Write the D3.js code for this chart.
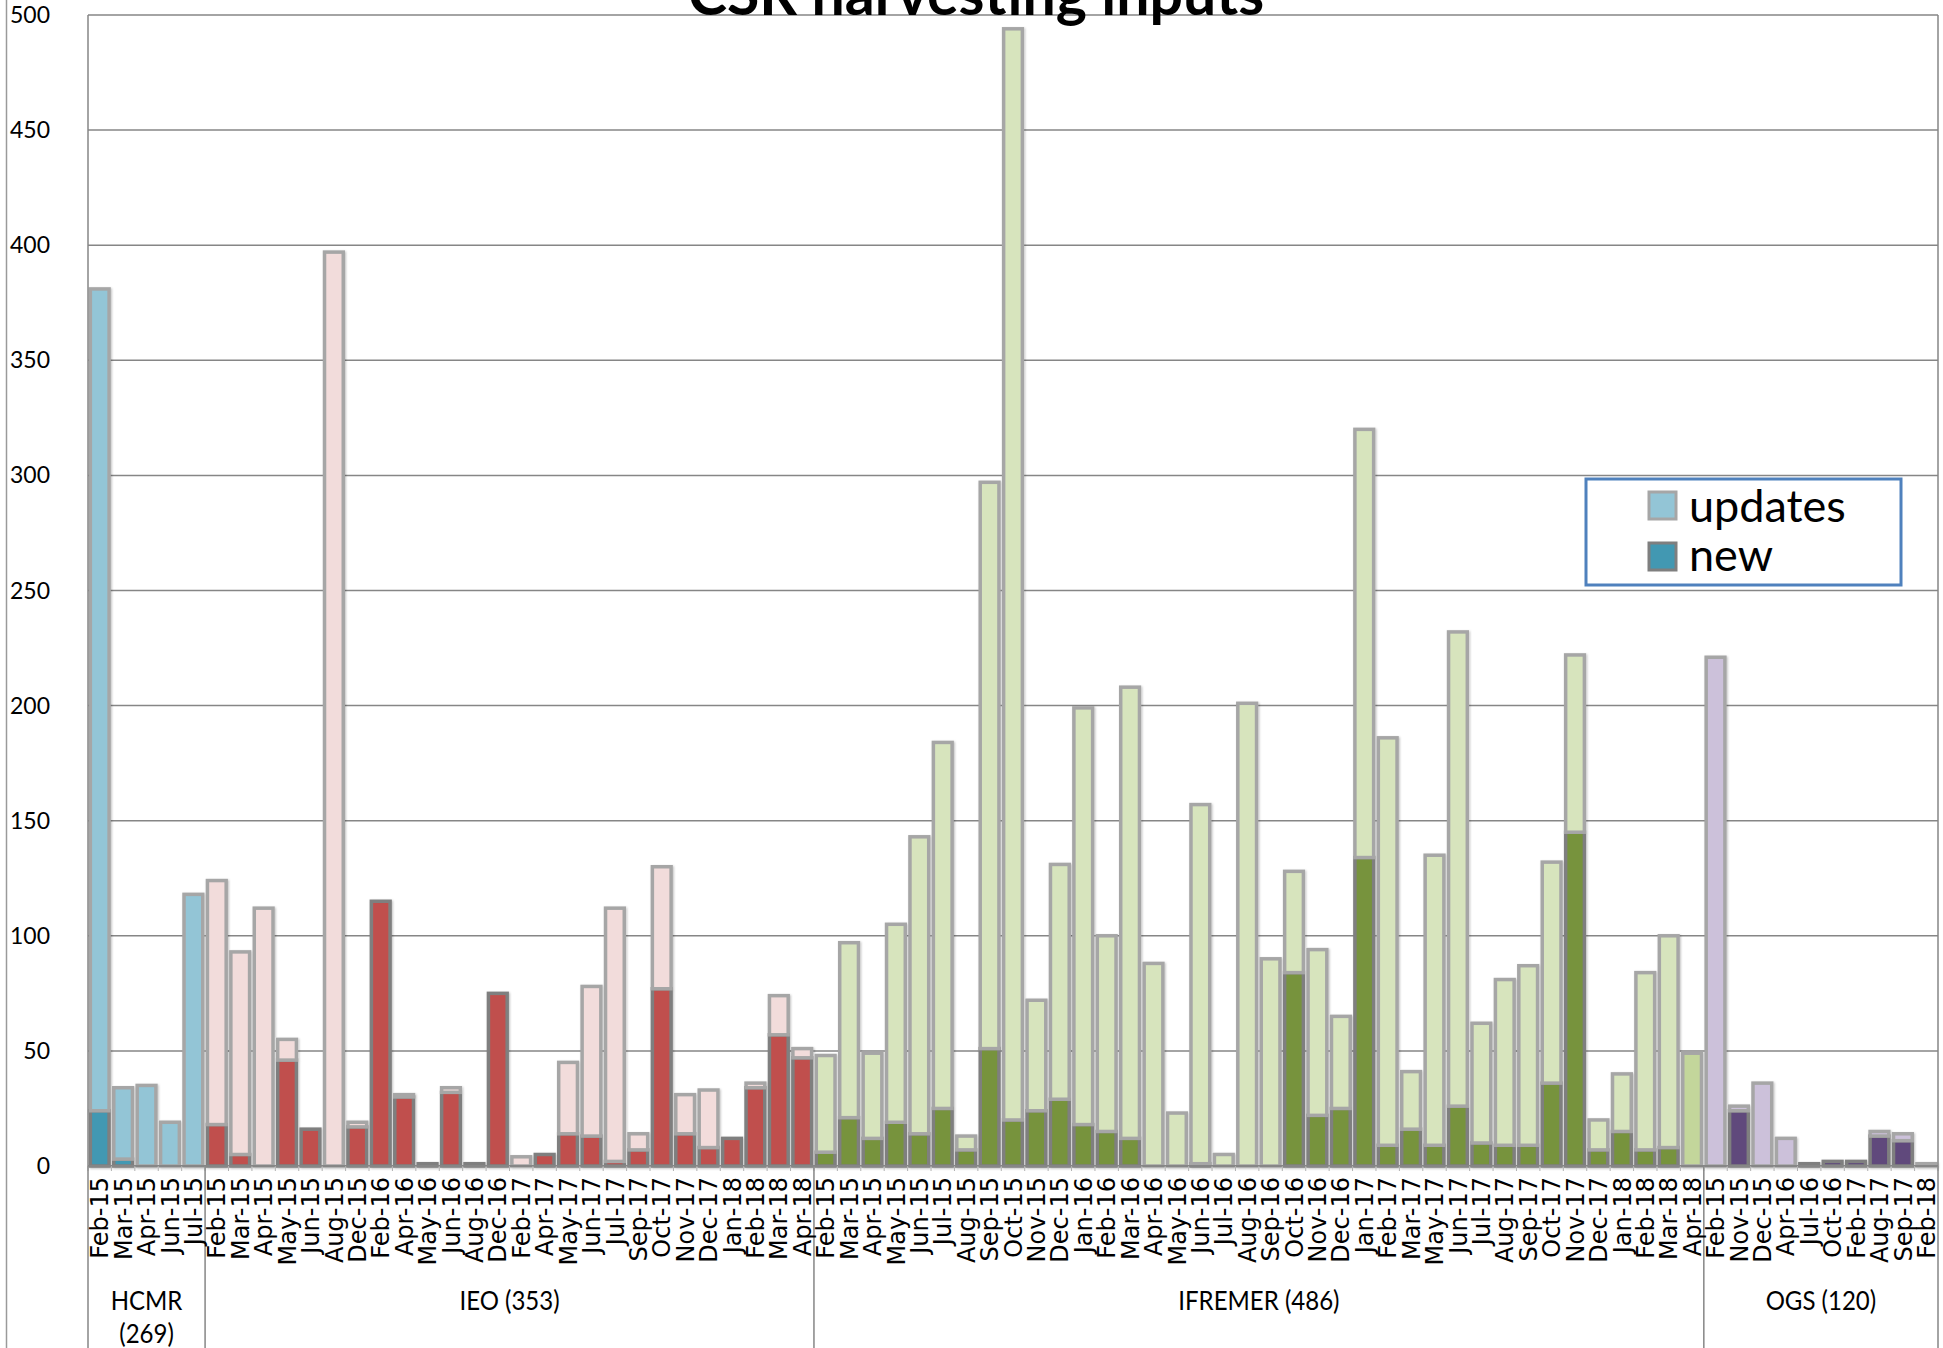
<!DOCTYPE html>
<html>
<head>
<meta charset="utf-8">
<script src="https://cdn.jsdelivr.net/npm/d3@7"></script>
<style>
  body { margin: 0; background: #fff; }
  svg { display: block; }
</style>
</head>
<body>
<div id="chart"></div>
<script>
// groups, in the order they sit along the axis
const groupNames = ['HCMR (269)', 'IEO (353)', 'IFREMER (486)', 'OGS (120)'];

const hcmrMonths = ['Feb-15', 'Mar-15', 'Apr-15', 'Jun-15', 'Jul-15'];
const hcmrNew = [24, 3, 0, 0, 0];
const hcmrUpdates = [357, 31, 35, 19, 118];

const ieoMonths = ['Feb-15', 'Mar-15', 'Apr-15', 'May-15', 'Jun-15', 'Aug-15', 'Dec-15', 'Feb-16', 'Apr-16',
  'May-16', 'Jun-16', 'Aug-16', 'Dec-16', 'Feb-17', 'Apr-17', 'May-17', 'Jun-17', 'Jul-17', 'Sep-17',
  'Oct-17', 'Nov-17', 'Dec-17', 'Jan-18', 'Feb-18', 'Mar-18', 'Apr-18'];
const ieoNew = [18, 5, 0, 46, 16, 0, 17, 115, 30, 1, 32, 1, 75, 0, 5, 14, 13, 2, 7, 77, 14, 8, 12, 34, 57, 47];
const ieoUpdates = [106, 88, 112, 9, 0, 397, 2, 0, 1, 0, 2, 0, 0, 4, 0, 31, 65, 110, 7, 53, 17, 25, 0, 2, 17, 4];

const ifremerMonths = ['Feb-15', 'Mar-15', 'Apr-15', 'May-15', 'Jun-15', 'Jul-15', 'Aug-15', 'Sep-15', 'Oct-15',
  'Nov-15', 'Dec-15', 'Jan-16', 'Feb-16', 'Mar-16', 'Apr-16', 'May-16', 'Jun-16', 'Jul-16', 'Aug-16',
  'Sep-16', 'Oct-16', 'Nov-16', 'Dec-16', 'Jan-17', 'Feb-17', 'Mar-17', 'May-17', 'Jun-17', 'Jul-17',
  'Aug-17', 'Sep-17', 'Oct-17', 'Nov-17', 'Dec-17', 'Jan-18', 'Feb-18', 'Mar-18', 'Apr-18'];
const ifremerNew = [6, 21, 12, 19, 14, 25, 7, 51, 20, 24, 29, 18, 15, 12, 0, 0, 1, 0, 0, 0,
  84, 22, 25, 134, 9, 16, 9, 26, 10, 9, 9, 36, 145, 7, 15, 7, 8, 0];
const ifremerUpdates = [42, 76, 37, 86, 129, 159, 6, 246, 474, 48, 102, 181, 85, 196, 88, 23, 156, 5, 201, 90,
  44, 72, 40, 186, 177, 25, 126, 206, 52, 72, 78, 96, 77, 13, 25, 77, 92, 49];

const ogsMonths = ['Feb-15', 'Nov-15', 'Dec-15', 'Apr-16', 'Jul-16', 'Oct-16', 'Feb-17', 'Aug-17', 'Sep-17', 'Feb-18'];
const ogsNew = [0, 24, 0, 0, 1, 2, 2, 13, 11, 0];
const ogsUpdates = [221, 2, 36, 12, 0, 0, 0, 2, 3, 1];

const yTicks = [0, 50, 100, 150, 200, 250, 300, 350, 400, 450, 500];

const palette = [
  { upd: '#93C5D6', nw: '#4298B2' },
  { upd: '#F2DCDB', nw: '#C0504D' },
  { upd: '#D7E4BD', nw: '#77933C' },
  { upd: '#CCC1DA', nw: '#604A7B' }
];

const W = 1943, H = 1348;
const plotLeft = 88, plotRight = 1938, plotTop = 15, plotBase = 1166;

const groups = [
  [hcmrMonths, hcmrNew, hcmrUpdates],
  [ieoMonths, ieoNew, ieoUpdates],
  [ifremerMonths, ifremerNew, ifremerUpdates],
  [ogsMonths, ogsNew, ogsUpdates]
];

// flatten into one row per category
const rows = [];
groups.forEach(([months, nw, upd], gi) => {
  months.forEach((m, i) => {
    rows.push({ key: gi + '|' + m, month: m, group: gi, nw: nw[i], upd: upd[i] });
  });
});

const svg = d3.select('#chart').append('svg')
  .attr('width', W).attr('height', H)
  .attr('viewBox', [0, 0, W, H]);

svg.append('rect').attr('width', W).attr('height', H).attr('fill', '#fff');

svg.append('defs').html(`<filter id="shadow" x="-30%" y="-10%" width="160%" height="120%"><feDropShadow dx="1" dy="1" stdDeviation="1.2" flood-color="#000" flood-opacity="0.25"/></filter>`);

const x = d3.scaleBand()
  .domain(rows.map(d => d.key))
  .range([plotLeft, plotRight])
  .paddingInner(0.2)
  .paddingOuter(0.1);

const y = d3.scaleLinear().domain([0, 500]).range([plotBase, plotTop]);

const step = x.step();
const bw = x.bandwidth();

// outer chart-area edge
svg.append('line')
  .attr('x1', 6.5).attr('x2', 6.5).attr('y1', 0).attr('y2', H)
  .attr('stroke', '#9a9a9a').attr('stroke-width', 1.5);

// gridlines
svg.append('g').selectAll('line')
  .data(yTicks)
  .join('line')
  .attr('x1', plotLeft).attr('x2', plotRight)
  .attr('y1', d => y(d)).attr('y2', d => y(d))
  .attr('stroke', '#868686').attr('stroke-width', 1.5);

// y labels
svg.append('g').selectAll('text')
  .data(yTicks)
  .join('text')
  .attr('x', 50).attr('y', d => y(d)).attr('dy', '0.35em')
  .attr('text-anchor', 'end')
  .attr('font-family', 'Lato, sans-serif').attr('font-size', 23)
  .attr('fill', '#000')
  .text(d => d);

// stacked bars: new at the bottom, updates on top
const bars = svg.append('g').attr('filter', 'url(#shadow)');

bars.selectAll('rect.new')
  .data(rows.filter(d => d.nw > 0))
  .join('rect')
  .attr('class', 'new')
  .attr('x', d => x(d.key)).attr('width', bw)
  .attr('y', d => y(d.nw)).attr('height', d => y(0) - y(d.nw))
  .attr('fill', d => palette[d.group].nw)
  .attr('stroke', '#7f7f7f').attr('stroke-width', 3.5);

bars.selectAll('rect.upd')
  .data(rows.filter(d => d.upd > 0))
  .join('rect')
  .attr('class', 'upd')
  .attr('x', d => x(d.key)).attr('width', bw)
  .attr('y', d => y(d.nw + d.upd)).attr('height', d => y(d.nw) - y(d.nw + d.upd))
  .attr('fill', d => (d.group === 2 && d.month === 'Apr-18') ? '#C3D69B' : palette[d.group].upd)
  .attr('stroke', '#a6a6a6').attr('stroke-width', 3.5);

// axis line
svg.append('line')
  .attr('x1', plotLeft).attr('x2', plotRight).attr('y1', plotBase).attr('y2', plotBase)
  .attr('stroke', '#868686').attr('stroke-width', 2);

// small ticks between categories
svg.append('g').selectAll('line')
  .data(d3.range(rows.length + 1))
  .join('line')
  .attr('x1', i => plotLeft + i * step).attr('x2', i => plotLeft + i * step)
  .attr('y1', plotBase).attr('y2', plotBase + 5)
  .attr('stroke', '#b0b0b0').attr('stroke-width', 1);

// plot frame left and right, running down through the label area
[plotLeft, plotRight].forEach(px => {
  svg.append('line')
    .attr('x1', px).attr('x2', px).attr('y1', plotTop).attr('y2', H)
    .attr('stroke', '#868686').attr('stroke-width', 1.5);
});

// group separators
const groupStart = [];
let acc = 0;
groups.forEach(g => { groupStart.push(acc); acc += g[0].length; });
groupStart.slice(1).forEach(k => {
  svg.append('line')
    .attr('x1', plotLeft + k * step).attr('x2', plotLeft + k * step)
    .attr('y1', plotBase).attr('y2', H)
    .attr('stroke', '#868686').attr('stroke-width', 1.5);
});

// month labels
svg.append('g').selectAll('text')
  .data(rows)
  .join('text')
  .attr('transform', d => `translate(${x(d.key) + bw / 2},${plotBase + 11}) rotate(-90)`)
  .attr('dy', '0.36em')
  .attr('text-anchor', 'end')
  .attr('font-family', '"DejaVu Sans", sans-serif').attr('font-size', 24)
  .attr('fill', '#000')
  .text(d => d.month);

// group labels (narrow face in the source, so squeeze sideways);
// wrapped onto two lines when wider than their span
const squeeze = 0.89;
groupNames.forEach((name, gi) => {
  const x0 = plotLeft + groupStart[gi] * step;
  const x1 = x0 + groups[gi][0].length * step;
  const cx = (x0 + x1) / 2;
  const t = svg.append('text')
    .attr('transform', `translate(${cx},1301) scale(${squeeze},1)`)
    .attr('dy', '0.35em')
    .attr('text-anchor', 'middle')
    .attr('font-family', 'Lato, sans-serif').attr('font-size', 27)
    .attr('fill', '#000')
    .text(name);
  if (t.node().getComputedTextLength() * squeeze > (x1 - x0) - 6) {
    const parts = name.split(' ');
    t.text(null);
    parts.forEach((p, i) => {
      t.append('tspan').attr('x', 0).attr('dy', i === 0 ? '0.35em' : '1.2em').text(p);
    });
  }
});

// title, clipped at the top edge as in the source
svg.append('text')
  .attr('x', 976).attr('y', 15)
  .attr('text-anchor', 'middle')
  .attr('font-family', 'Lato, sans-serif').attr('font-weight', 'bold').attr('font-size', 59)
  .attr('fill', '#000')
  .text('CSR harvesting inputs');

// legend
const legend = svg.append('g');
legend.append('rect')
  .attr('x', 1586).attr('y', 479).attr('width', 315).attr('height', 106)
  .attr('fill', '#fff').attr('stroke', '#4F81BD').attr('stroke-width', 3);

const legendItems = [
  { label: 'updates', fill: palette[0].upd, stroke: '#a6a6a6' },
  { label: 'new', fill: palette[0].nw, stroke: '#7f7f7f' }
];
legendItems.forEach((it, i) => {
  legend.append('rect')
    .attr('x', 1649).attr('y', 492 + i * 51).attr('width', 27).attr('height', 27)
    .attr('fill', it.fill).attr('stroke', it.stroke).attr('stroke-width', 3);
  legend.append('text')
    .attr('x', 1689).attr('y', 522 + i * 49)
    .attr('font-family', 'Lato, sans-serif').attr('font-size', 45)
    .attr('fill', '#000')
    .text(it.label);
});
</script>
</body>
</html>
